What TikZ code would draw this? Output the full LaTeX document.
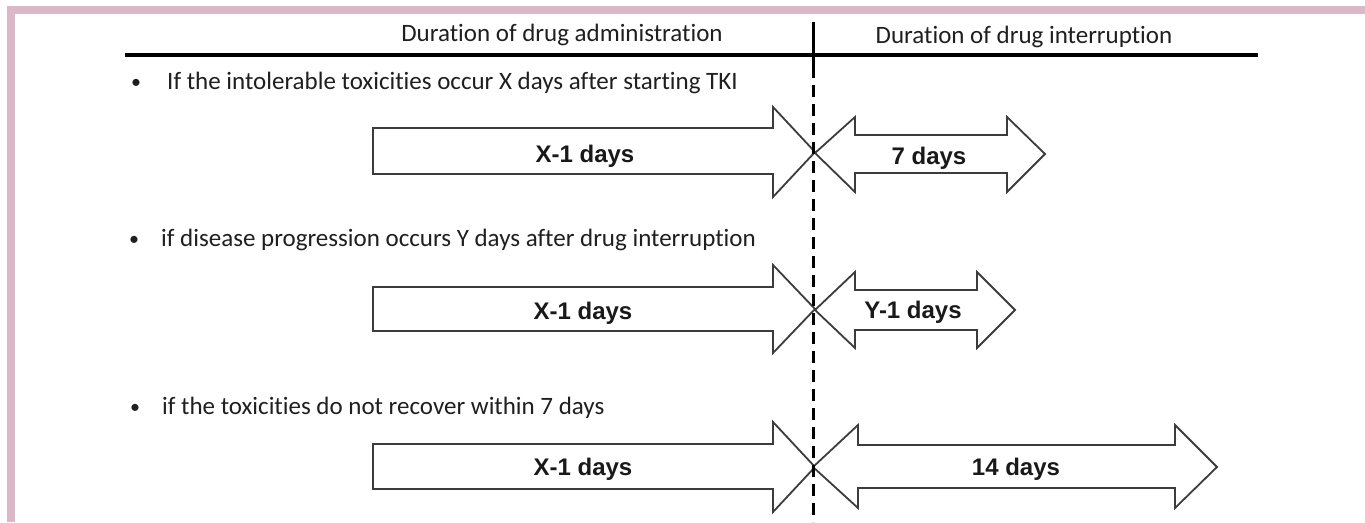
\documentclass[tikz,border=0pt]{standalone}
\usepackage{fontspec}
\setmainfont{Carlito}[Ligatures=NoCommon]
\newfontfamily\arialfont{Liberation Sans}
\definecolor{framepink}{RGB}{220,183,199}
\definecolor{linegray}{RGB}{60,60,60}
\begin{document}
\begin{tikzpicture}[x=1pt,y=-1pt,
  txt/.style={inner sep=0pt,anchor=base west,font=\fontsize{25}{30}\selectfont,text=black!88},
  bul/.style={inner sep=0pt,anchor=base,font=\fontsize{20}{24}\selectfont,text=black!88},
  hdr/.style={inner sep=0pt,anchor=base,font=\fontsize{25}{30}\selectfont,text=black!88},
  lbl/.style={inner sep=0pt,anchor=base,font=\arialfont\bfseries\fontsize{24}{28}\selectfont,text=black!90},
  arrowshape/.style={draw=linegray,line width=1.8pt,fill=white,line join=miter}]
\useasboundingbox (0,0) rectangle (1365,522);
\fill[white] (0,0) rectangle (1365,522);
% pink frame
\fill[framepink] (7,6) rectangle (1365,14);
\fill[framepink] (7,6) rectangle (15,522);

% header rule and divider
\coordinate (rl) at (125,55);
\coordinate (rr) at (1258,55);
\draw[line width=3.2pt] (rl) -- (rr);
\coordinate (vt) at (813,22);
\coordinate (vm) at (813,66);
\coordinate (vb) at (813,522);
\draw[line width=3pt] (vt) -- (vm);

% headers
\node[hdr] (h1) at (562,41) {Duration of drug administration};
\node[hdr] (h2) at (1024,43) {Duration of drug interruption};

% bullets
\node[bul] (b1) at (136,88) {•};
\node[txt] (t1) at (167,89) {If the intolerable toxicities occur X days after starting TKI};
\node[bul] (b2) at (134,245) {•};
\node[txt] (t2) at (161,246) {if disease progression occurs Y days after drug interruption};
\node[bul] (b3) at (135,413) {•};
\node[txt] (t3) at (162,414) {if the toxicities do not recover within 7 days};

% row 1
\draw[arrowshape] (373,128) -- (773,128) -- (773,107) -- (815,152) -- (773,197) -- (773,174) -- (373,174) -- cycle;
\draw[arrowshape] (815,153) -- (855,117) -- (855,135) -- (1007,135) -- (1007,117) -- (1045,154) -- (1007,192) -- (1007,173) -- (855,173) -- (855,192) -- cycle;
\node[lbl] (a1) at (585,162) {X-1 days};
\node[lbl] (c1) at (929,164) {7 days};

% row 2
\draw[arrowshape] (373,287) -- (773,287) -- (773,265) -- (815,309) -- (773,353) -- (773,331) -- (373,331) -- cycle;
\draw[arrowshape] (815,310) -- (855,272) -- (855,290) -- (977,290) -- (977,272) -- (1015,310) -- (977,348) -- (977,330) -- (855,330) -- (855,348) -- cycle;
\node[lbl] (a2) at (583,319) {X-1 days};
\node[lbl] (c2) at (913,318) {Y-1 days};

% row 3
\draw[arrowshape] (373,444) -- (773,444) -- (773,422) -- (815,467) -- (773,512) -- (773,489) -- (373,489) -- cycle;
\draw[arrowshape] (813,467) -- (858,425) -- (858,445) -- (1175,445) -- (1175,425) -- (1217,467) -- (1175,508) -- (1175,488) -- (858,488) -- (858,508) -- cycle;
\node[lbl] (a3) at (583,475) {X-1 days};
\node[lbl] (c3) at (1016,475) {14 days};

% dashed divider over arrows
\draw[line width=3pt,dash pattern=on 12pt off 7pt] (vm) -- (vb);
\end{tikzpicture}
\end{document}
